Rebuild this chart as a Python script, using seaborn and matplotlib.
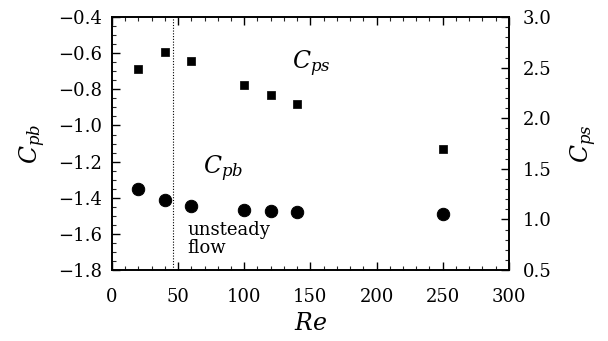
import matplotlib
matplotlib.use("Agg")
import matplotlib.pyplot as plt
import seaborn as sns
import pandas as pd
from matplotlib.ticker import MultipleLocator

sns.set_theme(style="ticks")
plt.rcParams['font.family'] = ['DejaVu Serif']
plt.rcParams['mathtext.fontset'] = 'dejavuserif'

re_vals = [20, 40, 60, 100, 120, 140, 250]
cpb = [-1.35, -1.415, -1.445, -1.47, -1.475, -1.48, -1.49]
cps = [2.49, 2.65, 2.57, 2.33, 2.23, 2.14, 1.70]
unsteady_re = 46

df = pd.DataFrame({"Re": re_vals, "Cpb": cpb, "Cps": cps})

fig = plt.figure(figsize=(6.08, 3.41), dpi=100)
ax = fig.add_axes([0.184, 0.208, 0.653, 0.742])
ax2 = ax.twinx()

sns.scatterplot(data=df, x="Re", y="Cpb", ax=ax, marker="o", s=80, color="black", edgecolor="black", legend=False)
sns.scatterplot(data=df, x="Re", y="Cps", ax=ax2, marker="s", s=40, color="black", edgecolor="black", legend=False)

ax.axvline(unsteady_re, color="black", linestyle=(0, (1, 1.5)), linewidth=0.8)

ax.set_xlim(0, 300)
ax.set_ylim(-1.8, -0.4)
ax2.set_ylim(0.5, 3.0)

ax.xaxis.set_major_locator(MultipleLocator(50))
ax.xaxis.set_minor_locator(MultipleLocator(10))
ax.yaxis.set_major_locator(MultipleLocator(0.2))
ax.yaxis.set_minor_locator(MultipleLocator(0.05))
ax2.yaxis.set_major_locator(MultipleLocator(0.5))
ax2.yaxis.set_minor_locator(MultipleLocator(0.1))

ax.yaxis.set_major_formatter(plt.FuncFormatter(lambda v, p: f"{v:.1f}".replace("-", "\u2212")))
ax2.yaxis.set_major_formatter(plt.FuncFormatter(lambda v, p: f"{v:.1f}"))

for a in (ax, ax2):
    for s in a.spines.values():
        s.set_linewidth(1.2)
        s.set_color("black")
ax.tick_params(axis="x", which="major", direction="in", length=6, width=1.0, labelsize=13, colors="black", top=True, pad=13)
ax.tick_params(axis="y", which="major", direction="in", length=6, width=1.0, labelsize=13, colors="black", pad=7)
ax.tick_params(axis="both", which="minor", direction="in", length=3, width=0.8, top=True)
ax.tick_params(axis="y", which="both", right=False)
ax2.tick_params(axis="y", which="major", direction="in", length=6, width=1.0, labelsize=13, colors="black", pad=10)
ax2.tick_params(axis="y", which="minor", direction="in", length=3, width=0.8)

ax.set_xlabel("$Re$", fontsize=17, color="black", labelpad=4)
ax.set_ylabel("$C_{pb}$", fontsize=17, color="black", labelpad=7)
ax2.set_ylabel("$C_{ps}$", fontsize=17, color="black", labelpad=12, rotation=90)

ax.text(57, -1.53, "unsteady\nflow", fontsize=13, color="black", va="top", ha="left", linespacing=0.95)
ax.text(69, -1.24, "$C_{pb}$", fontsize=17, color="black", va="center", ha="left")
ax.text(136, -0.66, "$C_{ps}$", fontsize=17, color="black", va="center", ha="left")

ax.grid(False); ax2.grid(False)
fig.savefig("out.png", dpi=100)
